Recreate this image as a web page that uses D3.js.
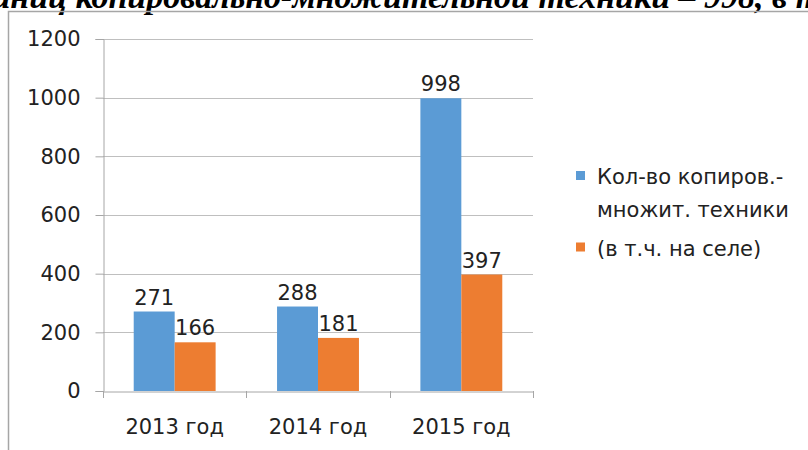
<!DOCTYPE html>
<html><head><meta charset="utf-8">
<script src="https://cdn.jsdelivr.net/npm/d3@7"></script>
<style>html,body{margin:0;padding:0;background:#fff;overflow:hidden}</style>
</head><body>
<svg id="c" width="808" height="450"></svg>
<script>
const categories = ["2013 год", "2014 год", "2015 год"];
const seriesNames = ["Кол-во копиров.-\nмножит. техники", "(в т.ч. на селе)"];
const seriesTotal = [271, 288, 998];
const seriesRural = [166, 181, 397];
const yTicks = [0, 200, 400, 600, 800, 1000, 1200];
const colors = ["#5B9BD5", "#ED7D31"];
const headingText = "единиц копировально-множительной техники – 998, в т.ч. на селе – 397";
const headingPrefix = "единиц ";

const svg = d3.select("#c");
const font = "DejaVu Sans";
const txt = "#222";

// cropped heading from the source document
const h = svg.append("text").attr("y", 8)
  .attr("font-family", "Liberation Serif").attr("font-weight", "bold").attr("font-style", "italic")
  .attr("font-size", 34).attr("fill", "#000").text(headingPrefix);
const pw = h.node().getComputedTextLength();
h.attr("x", 67 - pw).text(headingText);

// chart border
svg.append("path").attr("d", "M8.5,450 V11.5 H808").attr("fill", "none").attr("stroke", "#a6a6a6").attr("stroke-width", 1.5);

const y = d3.scaleLinear().domain([0, 1200]).range([391, 39]);
const x = d3.scaleBand().domain(categories).range([103, 533]).padding(0);
const xi = d3.scaleBand().domain([0, 1]).range([0, x.bandwidth()]).paddingInner(0).paddingOuter(0.75);

// gridlines
svg.append("g").selectAll("line").data(yTicks.filter(d => d > 0)).join("line")
  .attr("x1", 103).attr("x2", 533).attr("y1", d => Math.round(y(d)) + 0.5).attr("y2", d => Math.round(y(d)) + 0.5)
  .attr("stroke", "#bfbfbf").attr("stroke-width", 1);

// y axis
const ya = svg.append("g").attr("transform", "translate(103.5,0)")
  .call(d3.axisLeft(y).tickValues(yTicks).tickSize(8).tickPadding(15).tickFormat(d3.format("d")));
ya.select(".domain").attr("stroke", "#a6a6a6");
ya.selectAll(".tick line").attr("stroke", "#a6a6a6");
ya.selectAll("text").attr("font-family", font).attr("font-size", 21).attr("fill", txt);

// bars
const data = [seriesTotal, seriesRural];
data.forEach((vals, si) => {
  svg.append("g").selectAll("rect").data(vals).join("rect")
    .attr("x", (d, i) => x(categories[i]) + xi(si))
    .attr("width", xi.bandwidth())
    .attr("y", d => y(d)).attr("height", d => y(0) - y(d))
    .attr("fill", colors[si]);
  svg.append("g").selectAll("text").data(vals).join("text")
    .attr("x", (d, i) => x(categories[i]) + xi(si) + xi.bandwidth() / 2)
    .attr("y", d => y(d) - 7)
    .attr("text-anchor", "middle").attr("font-family", font).attr("font-size", 21).attr("fill", txt)
    .text(d => d);
});

// x axis
const xa = svg.append("g").attr("transform", "translate(0,391.5)")
  .call(d3.axisBottom(x).tickSize(0).tickPadding(0));
xa.select(".domain").attr("stroke", "#a6a6a6");
xa.selectAll("text").attr("font-family", font).attr("font-size", 21).attr("fill", txt).attr("dy", 0).attr("y", 42.5);
svg.append("g").selectAll("line").data(categories.concat([null])).join("line")
  .attr("x1", (d, i) => Math.round(103 + i * x.bandwidth()) + 0.5).attr("x2", (d, i) => Math.round(103 + i * x.bandwidth()) + 0.5)
  .attr("y1", 391).attr("y2", 398).attr("stroke", "#a6a6a6");

// legend
const leg = svg.append("g");
const legY = [[184, 216.5], [255.5]];
seriesNames.forEach((name, si) => {
  const lines = name.split("\n");
  leg.append("rect").attr("x", 576).attr("y", legY[si][0] - 13).attr("width", 9).attr("height", 9).attr("fill", colors[si]);
  lines.forEach((ln, li) => {
    leg.append("text").attr("x", 597).attr("y", legY[si][li]).attr("font-family", font).attr("font-size", 21).attr("fill", txt).text(ln);
  });
});
</script>
</body></html>
